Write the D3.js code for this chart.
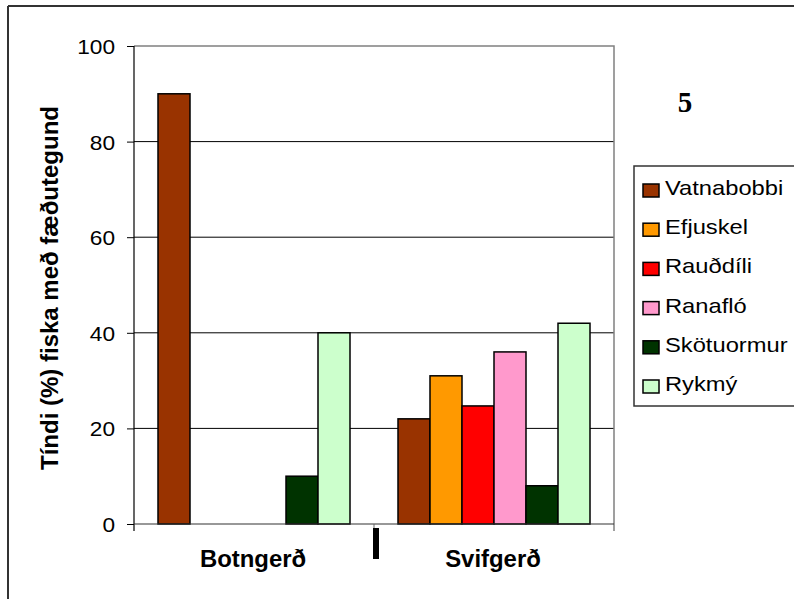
<!DOCTYPE html>
<html>
<head>
<meta charset="utf-8">
<script src="https://cdn.jsdelivr.net/npm/d3@7"></script>
<style>
  html, body { margin: 0; padding: 0; background: #fff; }
  svg { display: block; font-family: "Liberation Sans", Arial, sans-serif; }
  text { fill: #000; }
</style>
</head>
<body>
<svg id="chart" width="794" height="599"></svg>
<script>
// Habitat groups on the x axis
const categories = ["Botngerð", "Svifgerð"];
// Prey types (one bar each within a group)
const series = ["Vatnabobbi", "Efjuskel", "Rauðdíli", "Ranafló", "Skötuormur", "Rykmý"];
// Frequency of occurrence (%) per prey type, in the order of categories
const vatnabobbi = [90, 22];
const efjuskel = [0, 31];
const raudili = [0, 24.7];
const ranaflo = [0, 36];
const skotuormur = [10, 8];
const rykmy = [40, 42];
// Y axis tick labels
const yTicks = [0, 20, 40, 60, 80, 100];

const seriesValues = [vatnabobbi, efjuskel, raudili, ranaflo, skotuormur, rykmy];
const colors = ["#993300", "#FF9900", "#FF0000", "#FF99CC", "#003300", "#CCFFCC"];

const sansFont = '"Liberation Sans", Arial, sans-serif';
const serifFont = '"Liberation Serif", "Times New Roman", serif';

const svg = d3.select("#chart");
const plot = { left: 134, right: 614, top: 46, bottom: 524 };
const sx = 1.08; // horizontal glyph stretch

const y = d3.scaleLinear().domain([0, 100]).range([plot.bottom, plot.top]);
const x0 = d3.scaleBand().domain(categories).range([plot.left, plot.right]).padding(0);
const x1 = d3.scaleBand().domain(series).range([0, x0.bandwidth()])
  .paddingInner(0).paddingOuter(0.75);
const color = d3.scaleOrdinal().domain(series).range(colors);

// Outer frame (top and left edges)
svg.append("path")
  .attr("d", "M8,6 H800 M8,6 V605")
  .attr("fill", "none").attr("stroke", "#333").attr("stroke-width", 2);

// Gridlines
svg.append("g").selectAll("line")
  .data(yTicks.filter(t => t > 0 && t < 100))
  .join("line")
  .attr("x1", plot.left).attr("x2", plot.right)
  .attr("y1", d => y(d)).attr("y2", d => y(d))
  .attr("stroke", "#000").attr("stroke-width", 1);

// Plot area top and right border
svg.append("path")
  .attr("d", `M${plot.left},${y(100)} H${plot.right} V${plot.bottom + 7}`)
  .attr("fill", "none").attr("stroke", "#808080").attr("stroke-width", 1.5);

// Bars
const rows = [];
categories.forEach((c, ci) => {
  series.forEach((s, si) => rows.push({ cat: c, s, v: seriesValues[si][ci] }));
});
svg.append("g").selectAll("rect")
  .data(rows)
  .join("rect")
  .attr("x", d => x0(d.cat) + x1(d.s))
  .attr("y", d => y(d.v))
  .attr("width", x1.bandwidth())
  .attr("height", d => y(0) - y(d.v))
  .attr("fill", d => color(d.s))
  .attr("stroke", "#000").attr("stroke-width", 1.5);

// Y axis
const yAxis = svg.append("g")
  .attr("transform", `translate(${plot.left},0)`)
  .call(d3.axisLeft(y).tickValues(yTicks).tickSize(7).tickPadding(12).tickSizeOuter(0));
yAxis.select(".domain").remove();
yAxis.selectAll(".tick line").attr("stroke", "#000");
yAxis.selectAll(".tick text")
  .style("font-size", "21px")
  .style("font-family", sansFont)
  .attr("dy", "0.36em")
  .each(function () {
    const t = d3.select(this);
    const xx = +t.attr("x");
    t.attr("x", null).attr("transform", `translate(${xx},0) scale(${sx},1)`);
  });
svg.append("line")
  .attr("x1", plot.left).attr("x2", plot.left)
  .attr("y1", plot.top).attr("y2", plot.bottom + 7)
  .attr("stroke", "#000").attr("stroke-width", 1.2);

// X axis baseline and ticks
svg.append("line")
  .attr("x1", plot.left).attr("x2", plot.right)
  .attr("y1", plot.bottom).attr("y2", plot.bottom)
  .attr("stroke", "#333").attr("stroke-width", 1.2);
svg.append("line")
  .attr("x1", x0("Svifgerð")).attr("x2", x0("Svifgerð"))
  .attr("y1", plot.bottom).attr("y2", plot.bottom + 4)
  .attr("stroke", "#666").attr("stroke-width", 1);
// Group separator mark
svg.append("rect")
  .attr("x", x0("Svifgerð") - 1).attr("y", plot.bottom + 4)
  .attr("width", 6).attr("height", 31).attr("fill", "#000");

// Category labels
svg.append("g").selectAll("text")
  .data(categories)
  .join("text")
  .attr("transform", d => `translate(${x0(d) + x0.bandwidth() / 2 - 1},567) scale(1.04,1)`)
  .attr("text-anchor", "middle")
  .style("font-size", "23px").style("font-weight", "bold")
  .text(d => d);

// Y axis title
svg.append("text")
  .attr("transform", `translate(58,${(103 + 473) / 2}) rotate(-90)`)
  .attr("text-anchor", "middle")
  .style("font-size", "24px").style("font-weight", "bold")
  .text("Tíndi (%) fiska með fæðutegund");

// Panel number
svg.append("text")
  .attr("x", 685).attr("y", 112)
  .attr("text-anchor", "middle")
  .style("font-family", serifFont)
  .style("font-size", "29px").style("font-weight", "bold")
  .text("5");

// Legend
const legend = svg.append("g");
legend.append("rect")
  .attr("x", 634).attr("y", 166).attr("width", 200).attr("height", 240)
  .attr("fill", "#fff").attr("stroke", "#333").attr("stroke-width", 1.5);
const item = legend.selectAll("g.item")
  .data(series)
  .join("g").attr("class", "item")
  .attr("transform", (d, i) => `translate(0,${195 + i * 39.2})`);
item.append("rect")
  .attr("x", 643).attr("y", -11).attr("width", 16).attr("height", 13)
  .attr("fill", d => color(d)).attr("stroke", "#000").attr("stroke-width", 1.5);
item.append("text")
  .attr("transform", `translate(665,0) scale(1.13,1)`)
  .style("font-size", "21px")
  .text(d => d);
</script>
</body>
</html>
